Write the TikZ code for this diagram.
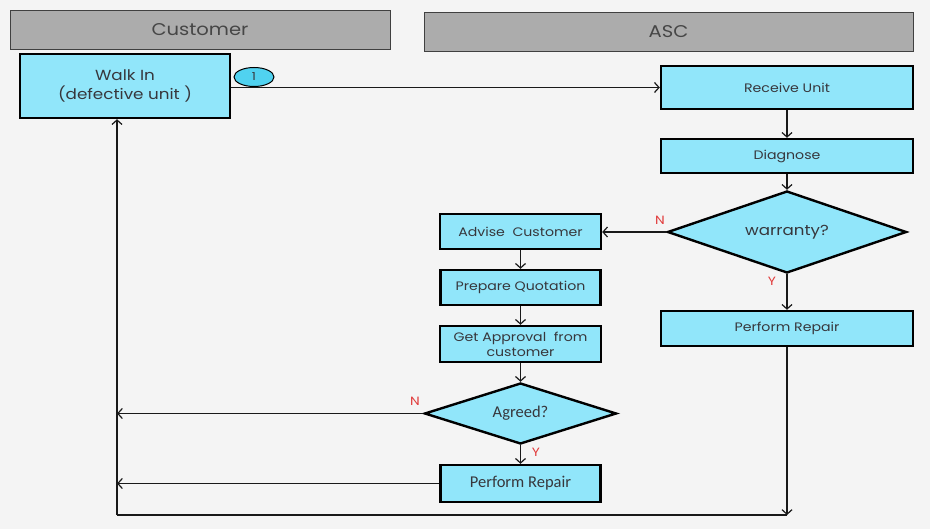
\documentclass[tikz,border=0pt]{standalone}
\usepackage{fontspec}
\setmainfont{Poppins}[FakeStretch=1.15]
\newfontfamily\carlitofont{Carlito}
\usetikzlibrary{shapes.geometric,arrows.meta}
\definecolor{paper}{RGB}{244,244,244}
\definecolor{boxfill}{RGB}{145,230,250}
\definecolor{hdrfill}{RGB}{172,172,172}
\definecolor{hdrtext}{RGB}{70,70,70}
\definecolor{boxtext}{RGB}{55,55,60}
\definecolor{onefill}{RGB}{80,210,240}
\definecolor{lblred}{RGB}{225,60,60}
\begin{document}
\begin{tikzpicture}[x=1pt,y=-1pt,
  hdr/.style={draw=black!75,line width=0.8pt,fill=hdrfill,text=hdrtext,font=\fontsize{17}{19}\selectfont,inner sep=0pt},
  stepbox/.style={draw=black,line width=2.4pt,fill=boxfill,text=boxtext,font=\fontsize{12.3}{13}\selectfont,inner sep=0pt,align=center},
  decision/.style={diamond,draw=black,line width=2.4pt,fill=boxfill,text=boxtext,inner sep=0pt,aspect=3},
  conn/.style={line width=1.2pt,draw=black!90},
  arr/.style={conn,-{Straight Barb[length=4.5pt,width=10pt,line width=1.2pt]}},
  yn/.style={text=lblred,font=\fontsize{12}{13}\selectfont,inner sep=0pt}]
\fill[paper] (0,0) rectangle (930,529);
\useasboundingbox (0,0) rectangle (930,529);
% headers
\node[hdr,minimum width=380pt,minimum height=39pt] (cust) at (200,29.5) {Customer};
\node[hdr,minimum width=489pt,minimum height=39pt] (asc) at (668.5,31.5) {ASC};
% boxes
\node[stepbox,minimum width=210pt,minimum height=64pt,font=\fontsize{14.6}{19}\selectfont] (walk) at (125,86) {Walk In\\(defective unit )};
\node[ellipse,draw=black,line width=1pt,fill=onefill,minimum width=40pt,minimum height=19pt,inner sep=0pt,text=boxtext,font=\fontsize{11}{12}\selectfont] (one) at (254,77) {1};
\node[stepbox,minimum width=252pt,minimum height=43pt] (recv) at (787,87.5) {Receive Unit};
\node[stepbox,minimum width=252pt,minimum height=34pt] (diag) at (787,156) {Diagnose};
\node[decision,minimum width=239pt,minimum height=82pt,font=\fontsize{14.5}{16}\selectfont] (warr) at (787,232) {warranty?};
\node[stepbox,minimum width=161pt,minimum height=35pt] (adv) at (520.5,231.5) {Advise\ \ Customer};
\node[stepbox,minimum width=160pt,minimum height=35pt] (prep) at (520.5,287.5) {Prepare Quotation};
\node[stepbox,minimum width=161pt,minimum height=36pt,font=\fontsize{12.3}{15}\selectfont] (appr) at (520.5,344) {Get Approval\ \ from\\customer};
\node[decision,minimum width=192pt,minimum height=61pt,font=\carlitofont\fontsize{16.5}{19}\selectfont] (agr) at (520.5,413.5) {Agreed?};
\node[stepbox,minimum width=160pt,minimum height=37pt,font=\carlitofont\fontsize{16.5}{19}\selectfont] (pr2) at (520.5,483.5) {Perform Repair};
\node[stepbox,minimum width=252pt,minimum height=35pt] (pr1) at (787,328.5) {Perform Repair};
% coordinates for return path
\coordinate (bl) at (117,515);
\coordinate (br) at (pr1.south |- bl);
\coordinate (nA) at (bl |- agr.west);
\coordinate (nP) at (bl |- pr2.west);
% connectors
\draw[arr] (recv.west -| walk.east) -- (recv.west);
\draw[arr] (recv) -- (diag);
\draw[arr] (diag) -- (warr);
\draw[arr] (warr.west) -- (adv.east |- warr.west);
\draw[arr] (warr) -- (pr1);
\draw[arr] (adv) -- (prep);
\draw[arr] (prep) -- (appr);
\draw[arr] (appr) -- (agr);
\draw[arr] (agr) -- (pr2);
\draw[arr] (agr.west) -- (nA);
\draw[arr] (pr2.west) -- (nP);
\draw[arr] (pr1.south) -- (br);
\draw[conn] (br) -- (bl);
\draw[arr] (bl) -- (bl |- walk.south);
% labels
\node[yn] (wN) at (660,220) {N};
\node[yn] (wY) at (772,281) {Y};
\node[yn] (aN) at (415,401) {N};
\node[yn] (aY) at (536,452) {Y};
\end{tikzpicture}
\end{document}
